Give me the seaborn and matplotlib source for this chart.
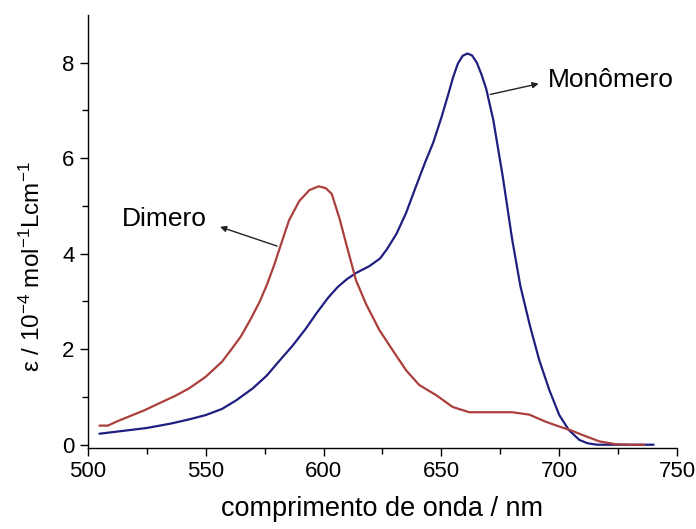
import numpy as np
import pandas as pd
import matplotlib.pyplot as plt
import seaborn as sns

# espectro do monômero
mono_nm = [505, 515, 525, 535, 543, 550, 557, 563, 570, 576, 581, 587, 592.5, 597, 602,
           606, 610, 614, 619.5, 624, 627, 631, 635, 639, 643, 646.5, 650, 653, 655,
           657, 659, 661, 663, 665, 667, 669, 672, 676, 680, 683.5, 687.5, 691.5, 695.8,
           700, 704, 708.5, 712, 716, 725, 740]
mono_eps = [0.23, 0.29, 0.35, 0.44, 0.53, 0.62, 0.75, 0.93, 1.18, 1.45, 1.74, 2.08, 2.43,
            2.75, 3.08, 3.30, 3.47, 3.60, 3.74, 3.90, 4.10, 4.42, 4.85, 5.38, 5.90, 6.32,
            6.85, 7.35, 7.70, 7.98, 8.14, 8.19, 8.15, 8.00, 7.75, 7.45, 6.80, 5.62, 4.30,
            3.32, 2.50, 1.77, 1.14, 0.62, 0.31, 0.10, 0.03, 0.00, 0.00, 0.00]

# espectro do dímero
dim_nm = [505, 508.5, 513, 518, 524, 530, 537, 543, 550, 557, 561, 565, 569, 573, 576,
          579, 582, 585.4, 589.7, 594, 598, 601, 603.5, 606.7, 610.3, 613.8, 618, 623.7,
          629.3, 635, 640.6, 647.7, 654.8, 661.8, 670, 680, 687.3, 694.3, 700, 705, 710,
          717, 724, 730, 736]
dim_eps = [0.40, 0.40, 0.50, 0.60, 0.72, 0.86, 1.02, 1.18, 1.42, 1.74, 2.00, 2.27, 2.62,
           3.00, 3.35, 3.75, 4.20, 4.70, 5.10, 5.33, 5.41, 5.37, 5.25, 4.75, 4.08, 3.44,
           2.95, 2.40, 1.98, 1.56, 1.25, 1.04, 0.79, 0.68, 0.68, 0.68, 0.63, 0.48, 0.38,
           0.30, 0.20, 0.07, 0.01, 0.00, 0.00]

df = pd.concat([
    pd.DataFrame({'nm': mono_nm, 'eps': mono_eps, 'serie': 'Monômero'}),
    pd.DataFrame({'nm': dim_nm, 'eps': dim_eps, 'serie': 'Dimero'}),
])

sns.set_style('ticks')
plt.rcParams['font.family'] = ['Liberation Sans', 'DejaVu Sans']
plt.rcParams['mathtext.fontset'] = 'custom'
plt.rcParams['mathtext.rm'] = 'Liberation Sans'
plt.rcParams['mathtext.it'] = 'Liberation Sans:italic'
plt.rcParams['text.color'] = 'black'
plt.rcParams['axes.labelcolor'] = 'black'
plt.rcParams['xtick.color'] = 'black'
plt.rcParams['ytick.color'] = 'black'
plt.rcParams['axes.edgecolor'] = 'black'

fig = plt.figure(figsize=(6.96, 5.29), dpi=100)
ax = fig.add_axes([0.126, 0.153, 0.847, 0.819])

sns.lineplot(data=df, x='nm', y='eps', hue='serie',
             palette={'Monômero': '#1f1f80', 'Dimero': '#ab3f3c'},
             ax=ax, linewidth=1.6, legend=False, sort=False)

ax.set_xlim(500, 750)
ax.set_ylim(-0.07, 9.0)
ax.set_xticks([500, 550, 600, 650, 700, 750])
ax.set_xticks(np.arange(500, 751, 25), minor=True)
ax.set_yticks([0, 2, 4, 6, 8])
ax.set_yticks(np.arange(0, 9, 1), minor=True)
ax.tick_params(axis='both', which='major', labelsize=16, length=6, width=1, direction='out')
ax.tick_params(axis='both', which='minor', length=4, width=1, direction='out')
sns.despine(ax=ax)
for s in ['left', 'bottom']:
    ax.spines[s].set_linewidth(1.0)

ax.set_xlabel('comprimento de onda / nm', fontsize=19.5, labelpad=10)
ax.set_ylabel(r'ε / 10$^{-4}$ mol$^{-1}$Lcm$^{-1}$', fontsize=17.5)
ax.yaxis.set_label_coords(-0.072, 0.42)

ax.annotate('', xy=(555, 4.58), xytext=(581.4, 4.14),
            arrowprops=dict(arrowstyle='-|>', color='#222222', lw=1, mutation_scale=9))
ax.text(532.6, 4.73, 'Dimero', fontsize=19, ha='center', va='center')

ax.annotate('', xy=(692.4, 7.57), xytext=(669.5, 7.32),
            arrowprops=dict(arrowstyle='-|>', color='#222222', lw=1, mutation_scale=9))
ax.text(695.3, 7.64, 'Monômero', fontsize=19, ha='left', va='center')

fig.savefig('out.png', dpi=100)
